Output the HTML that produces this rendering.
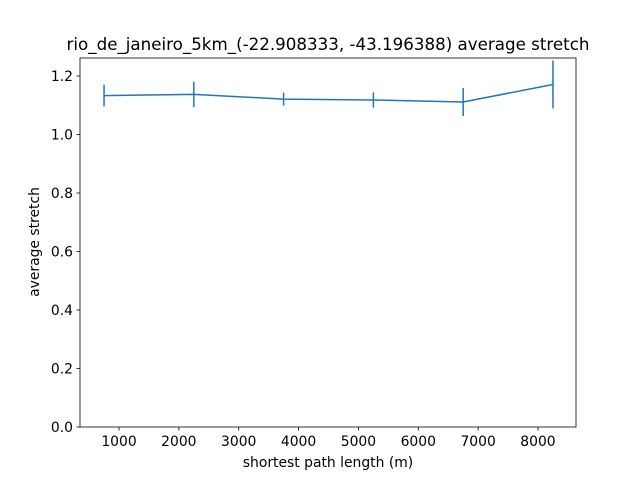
<!DOCTYPE html>
<html><head><meta charset="utf-8"><style>
body{margin:0;background:#fff;font-family:"Liberation Sans","DejaVu Sans",sans-serif}
svg text{font-family:"DejaVu Sans","Liberation Sans",sans-serif}
</style></head><body>
<svg id="chart" width="640" height="480" xmlns="http://www.w3.org/2000/svg"></svg>
<script>
const xValues=[750,2250,3750,5250,6750,8250];
const yValues=[1.133,1.137,1.121,1.118,1.111,1.171];
const yErrors=[0.037,0.043,0.022,0.026,0.048,0.082];
const xTicks=[1000,2000,3000,4000,5000,6000,7000,8000];
const yTicks=[0.0,0.2,0.4,0.6,0.8,1.0,1.2];
const L=80,R=576,T=58,B=427,xmin=348.5,xmax=8635,ymin=0,ymax=1.2615;
const sx=v=>L+(v-xmin)/(xmax-xmin)*(R-L);
const sy=v=>B-(v-ymin)/(ymax-ymin)*(B-T);
const svg=document.getElementById('chart');
const NS='http://www.w3.org/2000/svg';
function mk(t,a,txt){const e=document.createElementNS(NS,t);for(const k in a)e.setAttribute(k,a[k]);if(txt!==undefined)e.textContent=txt;svg.appendChild(e);return e;}
let e;
e=mk('text',{x:328,y:50,'text-anchor':'middle','font-size':'16.7'},'rio_de_janeiro_5km_(-22.908333, -43.196388) average stretch');


xTicks.forEach(v=>{
 const x=sx(v);
 e=mk('line',{x1:x,x2:x,y1:B,y2:B+3.5,stroke:'#000','stroke-width':0.8});
 
 
 e=mk('text',{x:x,y:B+19,'text-anchor':'middle','font-size':'13.9'},String(v));
 
 
});
yTicks.forEach(v=>{
 const y=sy(v);
 e=mk('line',{x1:L-3.5,x2:L,y1:y,y2:y,stroke:'#000','stroke-width':0.8});
 
 
 e=mk('text',{x:L-7,y:y+5,'text-anchor':'end','font-size':'13.9'},v.toFixed(1));
 
 
});
e=mk('text',{x:328,y:467,'text-anchor':'middle','font-size':'13.9'},'shortest path length (m)');


e=mk('text',{x:0,y:0,'text-anchor':'middle','font-size':'13.9',transform:'translate(39,242) rotate(-90)'},'average stretch');


let d=xValues.map((x,i)=>(i?'L':'M')+sx(x)+','+sy(yValues[i])).join(' ');
e=mk('path',{d:d,fill:'none',stroke:'#1f77b4','stroke-width':1.5});


xValues.forEach((x,i)=>{
 e=mk('line',{x1:sx(x),x2:sx(x),y1:sy(yValues[i]-yErrors[i]),y2:sy(yValues[i]+yErrors[i]),stroke:'#1f77b4','stroke-width':1.5});
 
 
});
e=mk('rect',{x:L,y:T,width:R-L,height:B-T,fill:'none',stroke:'#000','stroke-width':0.8});


</script>
</body></html>
